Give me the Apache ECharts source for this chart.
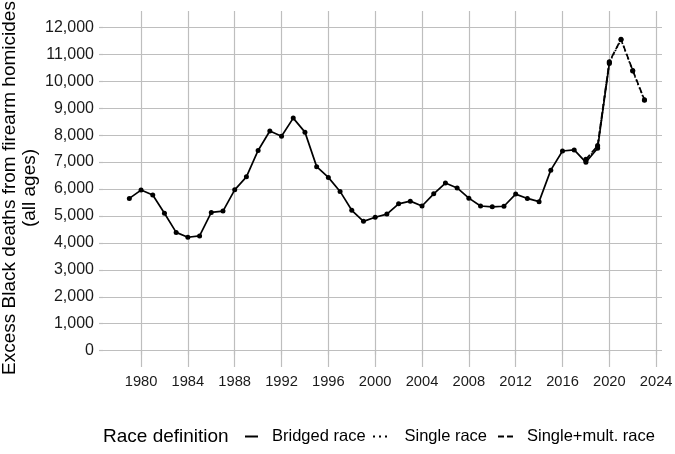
<!DOCTYPE html>
<html><head><meta charset="utf-8">
<script src="https://cdn.jsdelivr.net/npm/echarts@6/dist/echarts.min.js"></script>
<style>html,body{margin:0;padding:0;background:#fff}#c{width:675px;height:454px}</style>
</head><body><div id="c"></div>
<script>
const bridgedYears = [1979,1980,1981,1982,1983,1984,1985,1986,1987,1988,1989,1990,1991,1992,1993,1994,1995,1996,1997,1998,1999,2000,2001,2002,2003,2004,2005,2006,2007,2008,2009,2010,2011,2012,2013,2014,2015,2016,2017,2018,2019,2020];
const bridgedValues = [5650,5960,5780,5100,4390,4210,4260,5130,5180,5970,6450,7430,8150,7960,8630,8110,6830,6430,5910,5210,4800,4950,5070,5450,5550,5370,5820,6220,6040,5660,5370,5340,5360,5810,5650,5530,6700,7410,7450,6990,7510,10660];
const singleYears = [2018,2019,2020,2021,2022,2023];
const singleValues = [7050,7560,10690,11540,10380,9290];
const singleMultValues = [7100,7610,10720,11560,10400,9310];
const xTickValues = [1980,1984,1988,1992,1996,2000,2004,2008,2012,2016,2020,2024];
const yTickValues = [0,1000,2000,3000,4000,5000,6000,7000,8000,9000,10000,11000,12000];
const seriesNames = ['Bridged race','Single race','Single+mult. race'];

const zip = (xs, ys) => xs.map((x, i) => [x, ys[i]]);
const FONT = '"Liberation Sans", Arial, sans-serif';
const GRID = '#bebebe';

const chart = echarts.init(document.getElementById('c'), null, {renderer: 'canvas'});

function lineSeries(name, data, type, z) {
  return {
    name, type: 'line', data, z,
    symbol: 'circle', symbolSize: 5, showSymbol: true,
    itemStyle: {color: '#000'},
    lineStyle: {color: '#000', width: 1.7, type},
    emphasis: {disabled: true},
    animation: false
  };
}
function legendFor(name, icon, left, w, pad) {
  return {
    data: [{name, icon}], left, top: 428, padding: 0,
    itemWidth: w, itemHeight: 2, selectedMode: false,
    textStyle: {fontFamily: FONT, fontSize: 16.5, color: '#000', padding: [0,0,0,pad]}
  };
}

chart.setOption({
  animation: false,
  backgroundColor: '#fff',
  grid: {left: 103, right: 13, top: 11, bottom: 87, containLabel: false, outerBoundsMode: 'none'},
  xAxis: {
    type: 'value', min: 1976.75, max: 2024.5,
    axisLine: {show: false},
    axisTick: {show: true, length: 4, lineStyle: {color: GRID, width: 1.2}, customValues: xTickValues},
    axisLabel: {customValues: xTickValues, margin: 7, fontFamily: FONT, fontSize: 14.7, color: '#1a1a1a',
      formatter: v => String(v)},
    splitLine: {show: true, lineStyle: {color: GRID, width: 1.2}}
  },
  yAxis: {
    type: 'value', min: -605, max: 12605,
    axisLine: {show: false},
    axisTick: {show: true, length: 4, lineStyle: {color: GRID, width: 1.2}, customValues: yTickValues},
    axisLabel: {customValues: yTickValues, margin: 9, fontFamily: FONT, fontSize: 16, color: '#1a1a1a',
      formatter: v => v.toLocaleString('en-US')},
    splitLine: {show: true, lineStyle: {color: GRID, width: 1.2}}
  },
  legend: [
    legendFor(seriesNames[0], 'path://M0,0h13v2h-13z', 245, 13, 9),
    legendFor(seriesNames[1], 'path://M0,0h2v2h-2zM6,0h2v2h-2zM12,0h2v2h-2z', 373, 15, 12),
    legendFor(seriesNames[2], 'path://M0,0h6v2h-6zM9,0h6v2h-6z', 498, 15, 9)
  ],
  graphic: [
    {type: 'text', x: 20, y: 188, rotation: Math.PI / 2, silent: true,
     style: {text: 'Excess Black deaths from firearm homicides\n(all ages)', fontFamily: FONT, fontSize: 19,
       lineHeight: 20, fill: '#000', align: 'center', verticalAlign: 'middle'}},
    {type: 'text', x: 103, y: 437, silent: true,
     style: {text: 'Race definition', fontFamily: FONT, fontSize: 19, fill: '#000', align: 'left', verticalAlign: 'middle'}}
  ],
  series: [
    lineSeries(seriesNames[0], zip(bridgedYears, bridgedValues), 'solid', 3),
    lineSeries(seriesNames[1], zip(singleYears, singleValues), [1.5, 2.5], 4),
    lineSeries(seriesNames[2], zip(singleYears, singleMultValues), [6, 3], 5)
  ]
});
</script></body></html>
